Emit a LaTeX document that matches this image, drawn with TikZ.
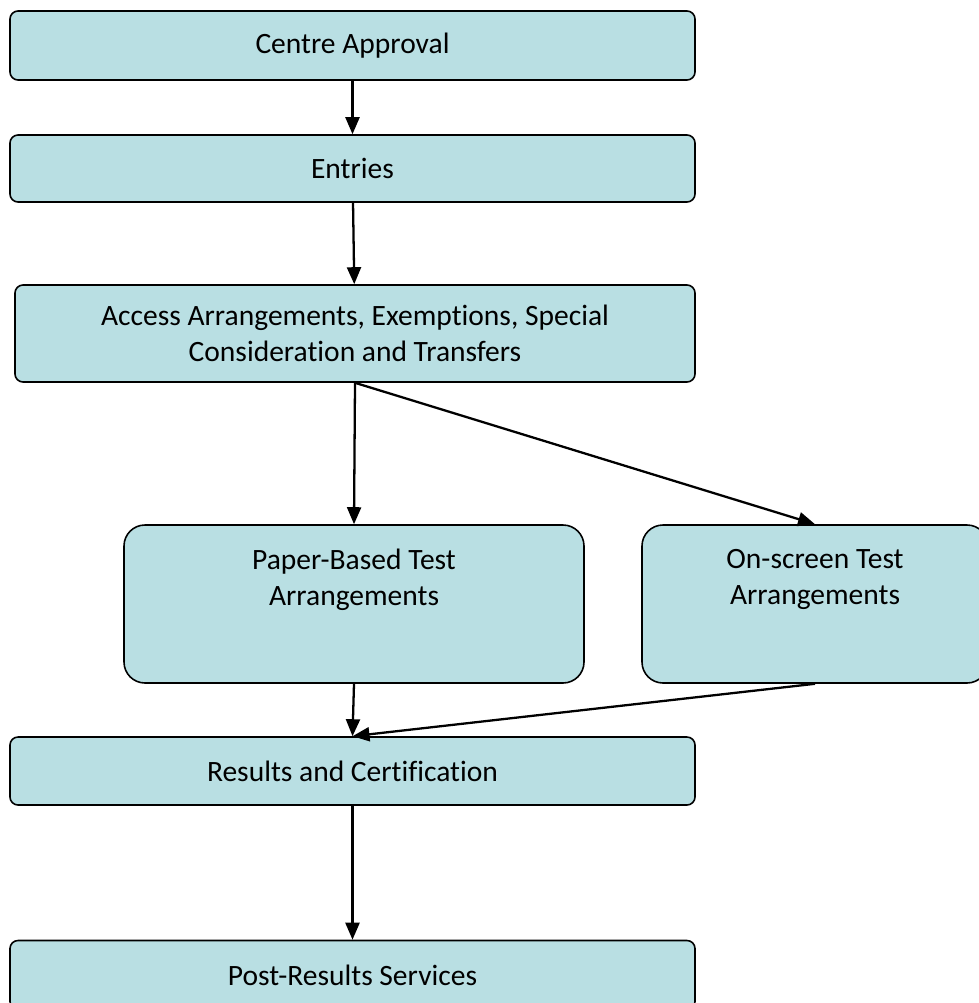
\documentclass[tikz,border=0pt]{standalone}
\usepackage{fontspec}
\setmainfont{Carlito}[Ligatures=NoCommon]
\usepackage{tikz}
\usetikzlibrary{arrows.meta, positioning, shapes.geometric}

\tikzset{
  flowbox/.style={draw=black, line width=0.9pt, fill=boxfill, rounded corners=0.16cm,
    minimum width=13.7cm, align=center, inner sep=0pt,
    font=\fontsize{16.8}{20.5}\selectfont},
  testbox/.style={draw=black, line width=0.9pt, fill=boxfill, rounded corners=0.42cm,
    minimum height=3.16cm, inner sep=0pt},
  toptext/.style={anchor=north, align=center, yshift=-0.38cm,
    font=\fontsize{16.8}{20.5}\selectfont},
  flowarrow/.style={line width=1.3pt, -{Triangle[length=0.34cm,width=0.28cm]}}
}

\begin{document}
\begin{tikzpicture}
    % Colours
    \definecolor{boxfill}{RGB}{185, 223, 227}

    \useasboundingbox (0,0) rectangle (19.58,-20.06);

    % Boxes
    \node[flowbox, minimum height=1.38cm] (approval) at (7.05,-0.91) {Centre Approval};
    \node[flowbox, minimum height=1.34cm] (entries) at (7.05,-3.37) {Entries};
    \node[flowbox, minimum height=1.94cm, minimum width=13.6cm] (access) at (7.1,-6.67)
      {Access Arrangements, Exemptions, Special\\Consideration and Transfers};
    \node[testbox, minimum width=9.2cm,
      label={[toptext]north:Paper-Based Test\\Arrangements}] (paper) at (7.08,-12.08) {};
    \node[testbox, minimum width=6.92cm,
      label={[toptext]north:On-screen Test\\Arrangements}] (onscreen) at (16.3,-12.08) {};
    \node[flowbox, minimum height=1.36cm] (results) at (7.05,-15.42) {Results and Certification};
    \node[flowbox, minimum height=1.38cm] (postresults) at (7.05,-19.5) {Post-Results Services};

    % Arrows
    \draw[flowarrow] (approval) -- (entries);
    \draw[flowarrow] (entries) -- (access);
    \draw[flowarrow] (access.south) -- (paper.north);
    \draw[flowarrow] (access.south) -- (onscreen.north);
    \draw[flowarrow] (paper.south) -- (results.north);
    \draw[flowarrow] (onscreen.south) -- (results.north);
    \draw[flowarrow] (results) -- (postresults);

\end{tikzpicture}
\end{document}
